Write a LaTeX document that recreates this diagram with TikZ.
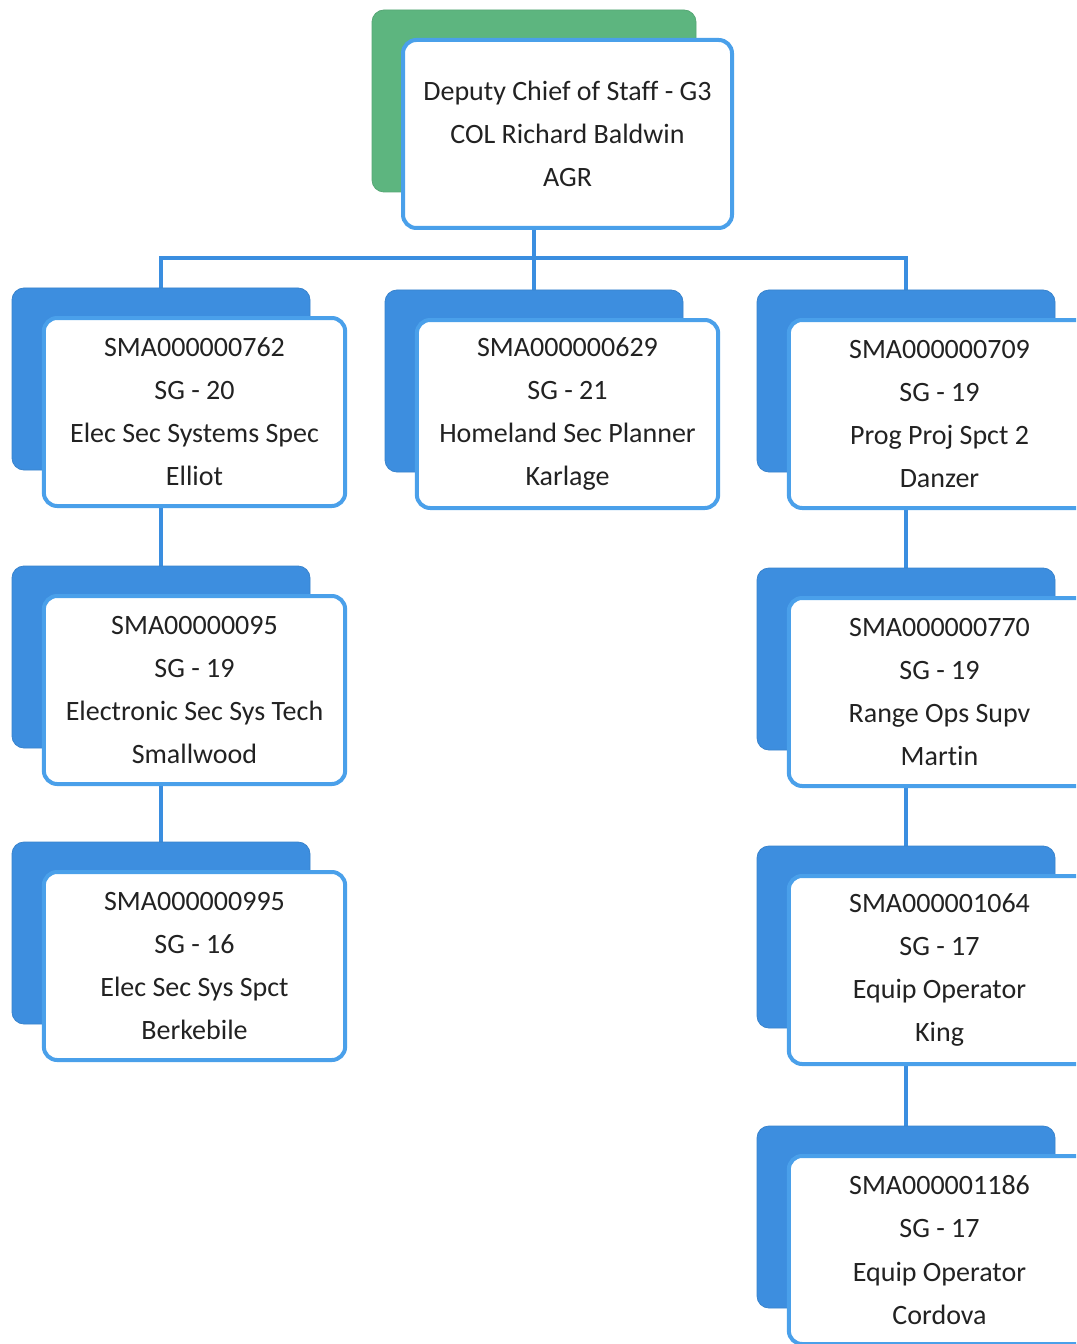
\documentclass[tikz,border=0pt]{standalone}
\usepackage{fontspec}
\setmainfont{Carlito}[Ligatures=CommonOff]
\usetikzlibrary{backgrounds}

\definecolor{backblue}{HTML}{3D8EDF}
\definecolor{backgreen}{HTML}{5DB57F}
\definecolor{frameblue}{HTML}{4AA0EA}
\definecolor{linkblue}{HTML}{3A8EE0}
\definecolor{inkgray}{HTML}{222222}

\tikzset{
  backcard/.style={rectangle, rounded corners=9pt, fill=backblue,
    draw=backblue!92!black, line width=0.6pt,
    minimum width=223.5pt, minimum height=136.5pt, inner sep=0pt},
  frontcard/.style={rectangle, rounded corners=10pt, fill=white,
    draw=frameblue, line width=3pt,
    minimum width=226pt, minimum height=141pt, inner sep=0pt,
    align=center, text=inkgray, font=\fontsize{21}{32.3}\selectfont},
  link/.style={draw=linkblue, line width=2.4pt}
}

% one position: shadow card behind a white card
\newcommand\poscard[4]{%
  \node[backcard] (#1b) at ({#2-33.5},{#3-33}) {};
  \node[frontcard] (#1) at (#2,#3) {#4};}

\begin{document}
\begin{tikzpicture}[x=0.75pt,y=-0.75pt]
\useasboundingbox (0,0) rectangle (1076,1344);
\clip (0,0) rectangle (1076,1344);

% head of the chart
\node[backcard, fill=backgreen, draw=backgreen!92!black,
      minimum width=243pt] (topb) at (534,101) {};
\node[frontcard, minimum width=246.75pt] (top) at (567.5,134)
  {Deputy Chief of Staff - G3\\COL Richard Baldwin\\AGR};

% left column
\poscard{a1}{194.5}{412}{SMA000000762\\SG - 20\\Elec Sec Systems Spec\\Elliot}
\poscard{a2}{194.5}{690}{SMA00000095\\SG - 19\\Electronic Sec Sys Tech\\Smallwood}
\poscard{a3}{194.5}{966}{SMA000000995\\SG - 16\\Elec Sec Sys Spct\\Berkebile}

% middle column
\poscard{b1}{567.5}{414}{SMA000000629\\SG - 21\\Homeland Sec Planner\\Karlage}

% right column
\poscard{c1}{939.5}{414}{SMA000000709\\SG - 19\\Prog Proj Spct 2\\Danzer}
\poscard{c2}{939.5}{692}{SMA000000770\\SG - 19\\Range Ops Supv\\Martin}
\poscard{c3}{939.5}{970}{SMA000001064\\SG - 17\\Equip Operator\\King}
\poscard{c4}{939.5}{1250}{SMA000001186\\SG - 17\\Equip Operator\\Cordova}

\coordinate (bus) at (534,258);

\begin{pgfonlayer}{background}
  \fill[white] (0,0) rectangle (1076,1344);
  \draw[link] (topb.south) -- (bus);
  \draw[link] (a1b.north) |- (bus) -| (c1b.north);
  \draw[link] (b1b.north) -- (b1b.north |- bus);
  \draw[link] (a1b.south) -- (a2b.north);
  \draw[link] (a2b.south) -- (a3b.north);
  \draw[link] (c1b.south) -- (c2b.north);
  \draw[link] (c2b.south) -- (c3b.north);
  \draw[link] (c3b.south) -- (c4b.north);
\end{pgfonlayer}
\end{tikzpicture}
\end{document}
